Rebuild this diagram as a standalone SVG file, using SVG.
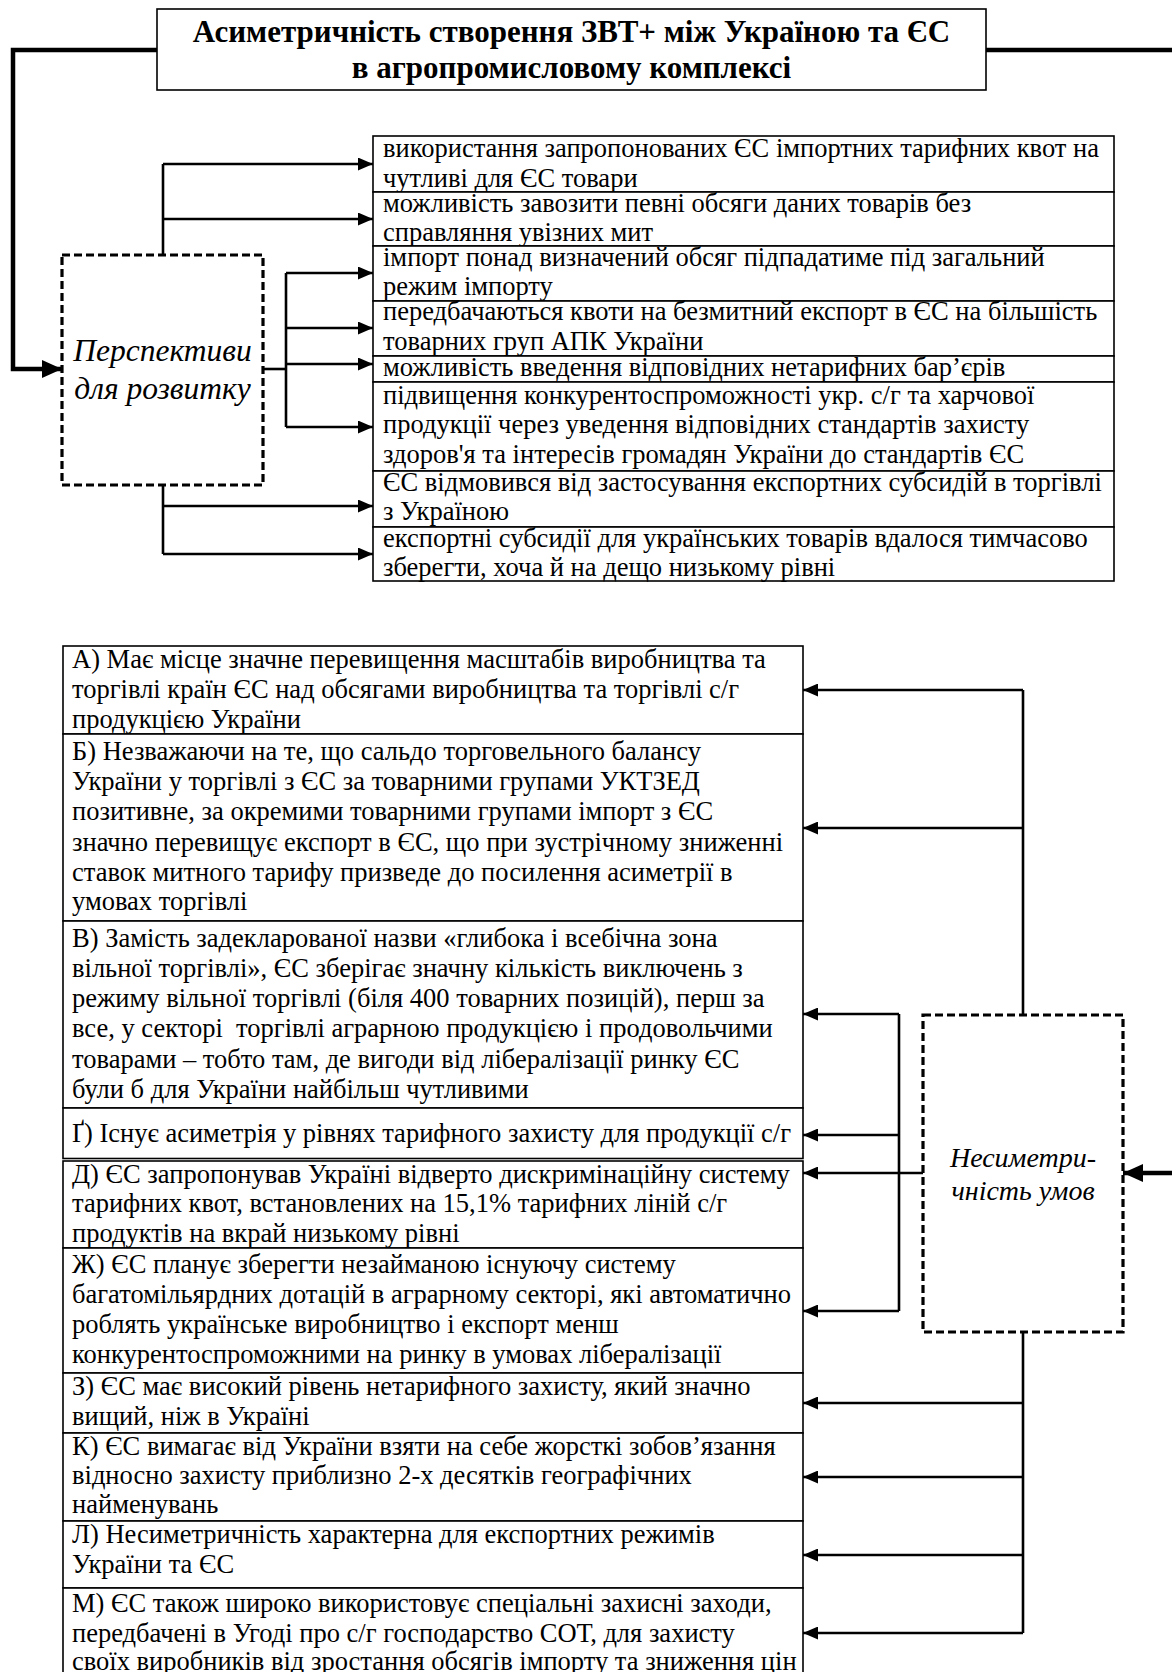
<svg xmlns="http://www.w3.org/2000/svg" width="1172" height="1672" viewBox="0 0 1172 1672">
<defs>
<style>
.box{fill:#fff;stroke:#000;stroke-width:1.6}
.dash{fill:#fff;stroke:#000;stroke-width:3.2;stroke-dasharray:8 4}
.t{font-family:"Liberation Serif","Times New Roman",serif;font-size:26.5px;fill:#000}
.ti{font-family:"Liberation Serif","Times New Roman",serif;font-size:28px;font-style:italic;fill:#000}
.tp{font-family:"Liberation Serif","Times New Roman",serif;font-size:31.5px;font-style:italic;fill:#000}
.tb{font-family:"Liberation Serif","Times New Roman",serif;font-size:31px;font-weight:bold;fill:#000}
.ln{fill:none;stroke:#000;stroke-width:2.6}
.thick{fill:none;stroke:#000;stroke-width:4.5}
</style>
<marker id="ah" markerUnits="userSpaceOnUse" markerWidth="15" markerHeight="13" refX="15" refY="6.5" orient="auto">
<path d="M0,0 L15,6.5 L0,13 z" fill="#000"/>
</marker>
<marker id="ahb" markerUnits="userSpaceOnUse" markerWidth="20" markerHeight="18" refX="20" refY="9" orient="auto">
<path d="M0,0 L20,9 L0,18 z" fill="#000"/>
</marker>
</defs>

<g id="connectors">
<path class="thick" d="M157,50 H13 V369 H62" marker-end="url(#ahb)"/>
<path class="thick" d="M986,50 H1172"/>
<path class="thick" d="M1172,1173 H1123" marker-end="url(#ahb)"/>
<path class="ln" d="M163,255 V164"/>
<path class="ln" d="M163,164 H373" marker-end="url(#ah)"/>
<path class="ln" d="M163,219 H373" marker-end="url(#ah)"/>
<path class="ln" d="M263,369 H286"/>
<path class="ln" d="M286,273 V427"/>
<path class="ln" d="M286,273 H373" marker-end="url(#ah)"/>
<path class="ln" d="M286,328 H373" marker-end="url(#ah)"/>
<path class="ln" d="M286,364 H373" marker-end="url(#ah)"/>
<path class="ln" d="M286,427 H373" marker-end="url(#ah)"/>
<path class="ln" d="M163,485 V554"/>
<path class="ln" d="M163,506 H373" marker-end="url(#ah)"/>
<path class="ln" d="M163,554 H373" marker-end="url(#ah)"/>
<path class="ln" d="M1023,1015 V690"/>
<path class="ln" d="M1023,690 H803" marker-end="url(#ah)"/>
<path class="ln" d="M1023,828 H803" marker-end="url(#ah)"/>
<path class="ln" d="M923,1173 H803" marker-end="url(#ah)"/>
<path class="ln" d="M899,1014 V1311"/>
<path class="ln" d="M899,1014 H803" marker-end="url(#ah)"/>
<path class="ln" d="M899,1135 H803" marker-end="url(#ah)"/>
<path class="ln" d="M899,1311 H803" marker-end="url(#ah)"/>
<path class="ln" d="M1023,1332 V1633"/>
<path class="ln" d="M1023,1403 H803" marker-end="url(#ah)"/>
<path class="ln" d="M1023,1477 H803" marker-end="url(#ah)"/>
<path class="ln" d="M1023,1555 H803" marker-end="url(#ah)"/>
<path class="ln" d="M1023,1633 H803" marker-end="url(#ah)"/>
</g>

<g id="title">
<rect class="box" x="157" y="9" width="829" height="81"/>
<text class="tb" x="571.5" y="42" text-anchor="middle">Асиметричність створення ЗВТ+ між Україною та ЄС</text>
<text class="tb" x="571.5" y="78" text-anchor="middle">в агропромисловому комплексі</text>
</g>

<g id="perspektyvy">
<rect class="dash" x="62" y="255" width="201" height="230"/>
<text class="tp" x="162.5" y="361" text-anchor="middle">Перспективи</text>
<text class="tp" x="162.5" y="399" text-anchor="middle">для розвитку</text>
</g>

<g id="p1">
<rect class="box" x="373" y="136" width="741" height="56"/>
<text class="t" x="383" y="157">використання запропонованих ЄС імпортних тарифних квот на</text>
<text class="t" x="383" y="187">чутливі для ЄС товари</text>
</g>
<g id="p2">
<rect class="box" x="373" y="192" width="741" height="54"/>
<text class="t" x="383" y="212">можливість завозити певні обсяги даних товарів без</text>
<text class="t" x="383" y="241">справляння увізних мит</text>
</g>
<g id="p3">
<rect class="box" x="373" y="246" width="741" height="55"/>
<text class="t" x="383" y="266">імпорт понад визначений обсяг підпадатиме під загальний</text>
<text class="t" x="383" y="295">режим імпорту</text>
</g>
<g id="p4">
<rect class="box" x="373" y="301" width="741" height="55"/>
<text class="t" x="383" y="320">передбачаються квоти на безмитний експорт в ЄС на більшість</text>
<text class="t" x="383" y="350">товарних груп АПК України</text>
</g>
<g id="p5">
<rect class="box" x="373" y="356" width="741" height="26"/>
<text class="t" x="383" y="376">можливість введення відповідних нетарифних бар’єрів</text>
</g>
<g id="p6">
<rect class="box" x="373" y="382" width="741" height="89"/>
<text class="t" x="383" y="404">підвищення конкурентоспроможності укр. с/г та харчової</text>
<text class="t" x="383" y="433">продукції через уведення відповідних стандартів захисту</text>
<text class="t" x="383" y="463">здоров'я та інтересів громадян України до стандартів ЄС</text>
</g>
<g id="p7">
<rect class="box" x="373" y="471" width="741" height="56"/>
<text class="t" x="383" y="491">ЄС відмовився від застосування експортних субсидій в торгівлі</text>
<text class="t" x="383" y="520">з Україною</text>
</g>
<g id="p8">
<rect class="box" x="373" y="527" width="741" height="54"/>
<text class="t" x="383" y="547">експортні субсидії для українських товарів вдалося тимчасово</text>
<text class="t" x="383" y="576">зберегти, хоча й на дещо низькому рівні</text>
</g>

<g id="nesymetrychnist">
<rect class="dash" x="923" y="1015" width="200" height="317"/>
<text class="ti" x="1023" y="1167" text-anchor="middle">Несиметри-</text>
<text class="ti" x="1023" y="1200" text-anchor="middle">чність умов</text>
</g>

<g id="a">
<rect class="box" x="63" y="646" width="740" height="88"/>
<text class="t" x="72" y="668">А) Має місце значне перевищення масштабів виробництва та</text>
<text class="t" x="72" y="698">торгівлі країн ЄС над обсягами виробництва та торгівлі с/г</text>
<text class="t" x="72" y="728">продукцією України</text>
</g>
<g id="b">
<rect class="box" x="63" y="734" width="740" height="187"/>
<text class="t" x="72" y="760">Б) Незважаючи на те, що сальдо торговельного балансу</text>
<text class="t" x="72" y="790">України у торгівлі з ЄС за товарними групами УКТЗЕД</text>
<text class="t" x="72" y="820">позитивне, за окремими товарними групами імпорт з ЄС</text>
<text class="t" x="72" y="851">значно перевищує експорт в ЄС, що при зустрічному зниженні</text>
<text class="t" x="72" y="881">ставок митного тарифу призведе до посилення асиметрії в</text>
<text class="t" x="72" y="910">умовах торгівлі</text>
</g>
<g id="v">
<rect class="box" x="63" y="921" width="740" height="187"/>
<text class="t" x="72" y="947">В) Замість задекларованої назви «глибока і всебічна зона</text>
<text class="t" x="72" y="977">вільної торгівлі», ЄС зберігає значну кількість виключень з</text>
<text class="t" x="72" y="1007">режиму вільної торгівлі (біля 400 товарних позицій), перш за</text>
<text class="t" x="72" y="1037" style="white-space:pre">все, у секторі  торгівлі аграрною продукцією і продовольчими</text>
<text class="t" x="72" y="1068">товарами – тобто там, де вигоди від лібералізації ринку ЄС</text>
<text class="t" x="72" y="1098">були б для України найбільш чутливими</text>
</g>
<g id="g">
<rect class="box" x="63" y="1108" width="740" height="50.5"/>
<text class="t" x="72" y="1142">Ґ) Існує асиметрія у рівнях тарифного захисту для продукції с/г</text>
</g>
<g id="d">
<rect class="box" x="63" y="1161" width="740" height="87"/>
<text class="t" x="72" y="1183">Д) ЄС запропонував Україні відверто дискримінаційну систему</text>
<text class="t" x="72" y="1212">тарифних квот, встановлених на 15,1% тарифних ліній с/г</text>
<text class="t" x="72" y="1242">продуктів на вкрай низькому рівні</text>
</g>
<g id="zh">
<rect class="box" x="63" y="1248" width="740" height="125"/>
<text class="t" x="72" y="1273">Ж) ЄС планує зберегти незайманою існуючу систему</text>
<text class="t" x="72" y="1303">багатомільярдних дотацій в аграрному секторі, які автоматично</text>
<text class="t" x="72" y="1333">роблять українське виробництво і експорт менш</text>
<text class="t" x="72" y="1363">конкурентоспроможними на ринку в умовах лібералізації</text>
</g>
<g id="z">
<rect class="box" x="63" y="1373" width="740" height="60"/>
<text class="t" x="72" y="1395">З) ЄС має високий рівень нетарифного захисту, який значно</text>
<text class="t" x="72" y="1425">вищий, ніж в Україні</text>
</g>
<g id="k">
<rect class="box" x="63" y="1433" width="740" height="88"/>
<text class="t" x="72" y="1455">К) ЄС вимагає від України взяти на себе жорсткі зобов’язання</text>
<text class="t" x="72" y="1484">відносно захисту приблизно 2-х десятків географічних</text>
<text class="t" x="72" y="1513">найменувань</text>
</g>
<g id="l">
<rect class="box" x="63" y="1521" width="740" height="67"/>
<text class="t" x="72" y="1543">Л) Несиметричність характерна для експортних режимів</text>
<text class="t" x="72" y="1573">України та ЄС</text>
</g>
<g id="m">
<rect class="box" x="63" y="1588" width="740" height="110"/>
<text class="t" x="72" y="1612">М) ЄС також широко використовує спеціальні захисні заходи,</text>
<text class="t" x="72" y="1642">передбачені в Угоді про с/г господарство СОТ, для захисту</text>
<text class="t" x="72" y="1670">своїх виробників від зростання обсягів імпорту та зниження цін</text>
</g>
</svg>
